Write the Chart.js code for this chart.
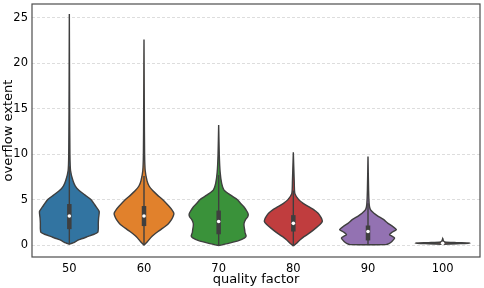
<!DOCTYPE html>
<html>
<head>
<meta charset="utf-8">
<script src="https://cdn.jsdelivr.net/npm/chart.js@4.4.1/dist/chart.umd.min.js"></script>
<style>
  html, body { margin: 0; padding: 0; background: #fff; }
  #wrap { width: 484px; height: 288px; }
</style>
</head>
<body>
<div id="wrap"><canvas id="violinChart"></canvas></div>
<script>
// categories + axis ticks
const qualityLabels = ["50", "60", "70", "80", "90", "100"];
const yTicks = [0, 5, 10, 15, 20, 25];

// violin outlines: value levels and relative half-width (1 = widest)
const q50Levels = [0.1, 0.25, 0.6, 0.96, 1.2, 1.4, 1.8, 2.4, 3.0, 3.7, 4.2, 5.0, 5.5, 6.0, 6.5, 7.1, 8.2, 10, 15, 25.4];
const q50Widths = [0, 0.12, 0.33, 0.63, 0.83, 0.95, 0.97, 0.97, 0.98, 1.0, 0.9, 0.73, 0.53, 0.33, 0.2, 0.12, 0.04, 0.02, 0.01, 0];

const q60Levels = [0, 0.41, 0.8, 1.14, 1.5, 1.87, 2.3, 2.8, 3.2, 3.5, 3.9, 4.3, 5.0, 5.5, 6.0, 6.5, 7.1, 8.2, 10, 15, 22.6];
const q60Widths = [0, 0.12, 0.22, 0.33, 0.47, 0.63, 0.8, 0.92, 0.98, 1.0, 0.93, 0.83, 0.63, 0.45, 0.29, 0.17, 0.1, 0.04, 0.02, 0.01, 0];

const q70Levels = [-0.05, 0.2, 0.5, 0.8, 1.0, 1.4, 1.7, 2.1, 2.4, 2.8, 3.1, 3.4, 3.7, 4.2, 4.6, 5.0, 5.5, 6.05, 6.8, 8, 10, 13.2];
const q70Widths = [0, 0.33, 0.67, 0.87, 0.92, 0.88, 0.87, 0.85, 0.85, 0.9, 0.97, 0.99, 0.95, 0.85, 0.73, 0.63, 0.4, 0.18, 0.1, 0.05, 0.02, 0];

const q80Levels = [-0.1, 0.24, 0.6, 0.96, 1.4, 1.87, 2.3, 2.6, 2.9, 3.2, 3.5, 3.9, 4.2, 4.6, 5.0, 5.7, 7, 10.2];
const q80Widths = [0, 0.12, 0.23, 0.37, 0.57, 0.75, 0.9, 0.97, 0.95, 0.9, 0.83, 0.68, 0.53, 0.33, 0.18, 0.05, 0.03, 0];

const q90Levels = [0.05, 0.06, 0.16, 0.41, 0.78, 1.0, 1.14, 1.4, 1.7, 2.05, 2.4, 2.8, 3.2, 3.5, 3.9, 4.5, 6, 9.75];
const q90Widths = [0, 0.6, 0.7, 0.8, 0.89, 0.8, 0.72, 0.8, 0.95, 0.83, 0.67, 0.53, 0.33, 0.2, 0.08, 0.04, 0.02, 0];

const q100Levels = [0.1, 0.16, 0.22, 0.28, 0.35, 0.5, 0.7];
const q100Widths = [0, 0.47, 0.92, 0.47, 0.07, 0.02, 0];

// inner box stats
const medians = [3.2, 3.2, 2.6, 2.4, 1.5, 0.2];
const quartile1 = [1.76, 2.1, 1.2, 1.5, 0.52, 0.15];
const quartile3 = [4.52, 4.3, 3.8, 3.3, 2.16, 0.28];
const whiskerLow = [0.1, 0, 0, 0, 0.09, 0.1];
const whiskerHigh = [8.66, 7.6, 7.7, 6.0, 4.6, 0.75];

const violinLevels = [q50Levels, q60Levels, q70Levels, q80Levels, q90Levels, q100Levels];
const violinWidths = [q50Widths, q60Widths, q70Widths, q80Widths, q90Widths, q100Widths];

const violinColors = ["#3274a1", "#e1812c", "#3a923a", "#c03d3e", "#9372b2", "#845b53"];
const edgeColor = "#3f3f3f";
const HALF = 0.4; // max half width in category units

function violinOutline(i) {
  const levels = violinLevels[i];
  const widths = violinWidths[i];
  const right = levels.map((y, k) => ({ x: i + HALF * widths[k], y: y }));
  const left = levels.map((y, k) => ({ x: i - HALF * widths[k], y: y })).reverse();
  return right.concat(left);
}

const datasets = [];
qualityLabels.forEach((label, i) => {
  datasets.push({
    label: "violin " + label,
    data: violinOutline(i),
    borderColor: edgeColor,
    backgroundColor: violinColors[i],
    borderWidth: 1.4,
    fill: "shape",
    tension: 0.2,
    pointRadius: 0,
    order: 3,
  });
  datasets.push({
    label: "whisker " + label,
    data: [{ x: i, y: whiskerLow[i] }, { x: i, y: whiskerHigh[i] }],
    borderColor: edgeColor,
    borderWidth: 1.4,
    pointRadius: 0,
    fill: false,
    order: 2,
  });
  datasets.push({
    label: "box " + label,
    data: [{ x: i, y: quartile1[i] }, { x: i, y: quartile3[i] }],
    borderColor: edgeColor,
    borderWidth: 4.5,
    pointRadius: 0,
    fill: false,
    order: 1,
  });
});
datasets.push({
  type: "scatter",
  label: "median",
  data: medians.map((m, i) => ({ x: i, y: m })),
  backgroundColor: "#ffffff",
  borderWidth: 0,
  pointRadius: 1.8,
  order: 0,
});

const framePlugin = {
  id: "frame",
  afterDraw(chart) {
    const { ctx, chartArea: a } = chart;
    ctx.save();
    ctx.strokeStyle = "#4d4d4d";
    ctx.lineWidth = 1.2;
    ctx.strokeRect(a.left, a.top, a.right - a.left, a.bottom - a.top);
    ctx.restore();
  },
};

const font = { family: "DejaVu Sans", size: 11.5 };

new Chart(document.getElementById("violinChart"), {
  type: "line",
  data: { datasets: datasets },
  plugins: [framePlugin],
  options: {
    responsive: true,
    maintainAspectRatio: false,
    animation: false,
    layout: { padding: { top: 2, right: 2, left: 0, bottom: 0 } },
    plugins: { legend: { display: false }, tooltip: { enabled: false } },
    scales: {
      x: {
        type: "linear",
        min: -0.5,
        max: 5.5,
        afterBuildTicks: (axis) => {
          axis.ticks = qualityLabels.map((_, i) => ({ value: i }));
        },
        afterFit: (axis) => {
          axis.height = 31;
          axis.paddingLeft = 0;
          axis.paddingRight = 0;
        },
        grid: { display: false, drawTicks: false },
        border: { display: false },
        ticks: {
          color: "#000",
          font: font,
          padding: 5,
          maxRotation: 0,
          callback: (v) => qualityLabels[v],
        },
        title: {
          display: true,
          text: "quality factor",
          color: "#000",
          font: { family: "DejaVu Sans", size: 13 },
          padding: { top: 0, bottom: 1 },
        },
      },
      y: {
        min: -1.3,
        max: 26.5,
        afterBuildTicks: (axis) => {
          axis.ticks = yTicks.map((v) => ({ value: v }));
        },
        afterFit: (axis) => {
          axis.width = 32;
          axis.paddingTop = 0;
          axis.paddingBottom = 0;
        },
        grid: { color: "#d4d4d4", lineWidth: 0.8, drawTicks: false },
        border: { display: false, dash: [3, 2] },
        ticks: { color: "#000", font: font, padding: 4 },
        title: {
          display: true,
          text: "overflow extent",
          color: "#000",
          font: { family: "DejaVu Sans", size: 13 },
          padding: { top: 1, bottom: 0 },
        },
      },
    },
  },
});
</script>
</body>
</html>
